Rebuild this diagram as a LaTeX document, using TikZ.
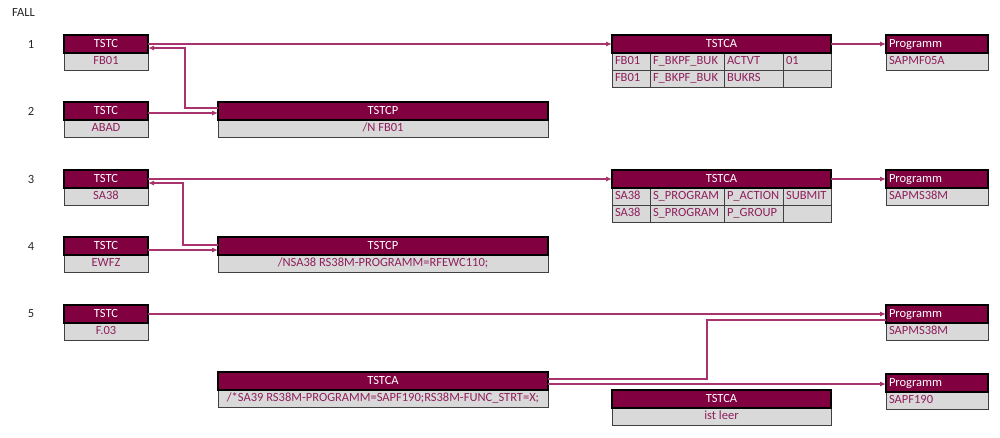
\documentclass[tikz,border=0pt]{standalone}
\usepackage{fontspec}
\setmainfont{Carlito}
\usetikzlibrary{arrows.meta}
\definecolor{maroon}{HTML}{800040}
\definecolor{bodyfill}{HTML}{D9D9D9}
\definecolor{bodyline}{HTML}{404040}
\definecolor{bodytext}{HTML}{8E1F5C}
\definecolor{connc}{HTML}{A8336E}
\definecolor{lblc}{HTML}{262626}
\newcommand{\fs}{\fontsize{12.5}{14}\selectfont}
\begin{document}
\begin{tikzpicture}[x=1pt,y=-1pt,
  box/.style={rectangle, anchor=north west, inner sep=0pt, outer sep=0pt, font=\fs, text height=8.5pt, text depth=2.5pt},
  hdr/.style={box, draw=black, line width=1.4pt, fill=maroon, text=white, minimum height=18pt},
  bod/.style={box, draw=bodyline, line width=1pt, fill=bodyfill, text=bodytext, minimum height=17pt},
  lft/.style={align=left, inner xsep=3pt, text width=#1},
  conn/.style={draw=connc, line width=1.1pt},
  arr/.style={conn, -{Latex[length=6pt,width=5pt]}},
  lbl/.style={font=\fs, text=lblc, inner sep=0pt}
]
\useasboundingbox (0,0) rectangle (1000,437);

\node[lbl, anchor=west] (fall) at (12,12) {FALL};
\node[lbl] (n1) at (31,44) {1};
\node[lbl] (n2) at (31,111) {2};
\node[lbl] (n3) at (31,179) {3};
\node[lbl] (n4) at (31,246) {4};
\node[lbl] (n5) at (31,314) {5};

% Row 1
\node[bod, minimum width=84pt] (t1b) at (64,53) {FB01};
\node[hdr, minimum width=84pt] (t1h) at (64,35) {TSTC};
\node[bod, lft=32pt] (c1a) at (612,53) {FB01};
\node[bod, lft=68pt] (c1b) at (650,53) {F\_BKPF\_BUK};
\node[bod, lft=53pt] (c1c) at (724,53) {ACTVT};
\node[bod, lft=42pt] (c1d) at (783,53) {01};
\node[bod, lft=32pt] (c1e) at (612,70) {FB01};
\node[bod, lft=68pt] (c1f) at (650,70) {F\_BKPF\_BUK};
\node[bod, lft=53pt] (c1g) at (724,70) {BUKRS};
\node[bod, lft=42pt] (c1h) at (783,70) {};
\node[hdr, minimum width=219pt] (ca1h) at (612,35) {TSTCA};
\node[bod, lft=96pt] (g1b) at (886,53) {SAPMF05A};
\node[hdr, lft=96pt] (g1h) at (886,35) {Programm};

% Row 2
\node[bod, minimum width=84pt] (t2b) at (64,120) {ABAD};
\node[hdr, minimum width=84pt] (t2h) at (64,102) {TSTC};
\node[bod, minimum width=330pt] (p2b) at (218,120) {/N FB01};
\node[hdr, minimum width=330pt] (p2h) at (218,102) {TSTCP};

% Row 3
\node[bod, minimum width=84pt] (t3b) at (64,188) {SA38};
\node[hdr, minimum width=84pt] (t3h) at (64,170) {TSTC};
\node[bod, lft=32pt] (c3a) at (612,188) {SA38};
\node[bod, lft=68pt] (c3b) at (650,188) {S\_PROGRAM};
\node[bod, lft=53pt] (c3c) at (724,188) {P\_ACTION};
\node[bod, lft=42pt] (c3d) at (783,188) {SUBMIT};
\node[bod, lft=32pt] (c3e) at (612,205) {SA38};
\node[bod, lft=68pt] (c3f) at (650,205) {S\_PROGRAM};
\node[bod, lft=53pt] (c3g) at (724,205) {P\_GROUP};
\node[bod, lft=42pt] (c3h) at (783,205) {};
\node[hdr, minimum width=219pt] (ca3h) at (612,170) {TSTCA};
\node[bod, lft=96pt] (g3b) at (886,188) {SAPMS38M};
\node[hdr, lft=96pt] (g3h) at (886,170) {Programm};

% Row 4
\node[bod, minimum width=84pt] (t4b) at (64,255) {EWFZ};
\node[hdr, minimum width=84pt] (t4h) at (64,237) {TSTC};
\node[bod, minimum width=330pt] (p4b) at (218,255) {/NSA38 RS38M-PROGRAMM=RFEWC110;};
\node[hdr, minimum width=330pt] (p4h) at (218,237) {TSTCP};

% Row 5
\node[bod, minimum width=84pt] (t5b) at (64,323) {F.03};
\node[hdr, minimum width=84pt] (t5h) at (64,305) {TSTC};
\node[bod, lft=96pt] (g5b) at (886,323) {SAPMS38M};
\node[hdr, lft=96pt] (g5h) at (886,305) {Programm};

% Row 6
\node[bod, minimum width=330pt] (ca6b) at (218,390) {/*SA39 RS38M-PROGRAMM=SAPF190;RS38M-FUNC\_STRT=X;};
\node[hdr, minimum width=330pt] (ca6h) at (218,372) {TSTCA};
\node[bod, lft=96pt] (g6b) at (886,392) {SAPF190};
\node[hdr, lft=96pt] (g6h) at (886,374) {Programm};
\node[bod, minimum width=219pt] (ca7b) at (612,408) {ist leer};
\node[hdr, minimum width=219pt] (ca7h) at (612,390) {TSTCA};

% Connectors
\draw[arr] (t1h.east) -- (ca1h.west);
\draw[arr] (p2h.west |- 0,108) -- (185,108) -- (185,48) -- (t1h.east |- 0,48);
\draw[arr] (t2h.east |- 0,113) -- (p2h.west |- 0,113);
\draw[arr] (ca1h.east) -- (g1h.west);

\draw[arr] (t3h.east) -- (ca3h.west);
\draw[arr] (p4h.west |- 0,245) -- (183,245) -- (183,183) -- (t3h.east |- 0,183);
\draw[arr] (t4h.east |- 0,250) -- (p4h.west |- 0,250);
\draw[arr] (ca3h.east) -- (g3h.west);

\draw[arr] (t5h.east) -- (g5h.west);
\draw[conn] (ca6h.east |- 0,379) -- (707,379) -- (707,320) -- (g5h.west |- 0,320);
\draw[arr] (ca6h.east |- 0,384) -- (g6h.west |- 0,384);
\end{tikzpicture}
\end{document}
